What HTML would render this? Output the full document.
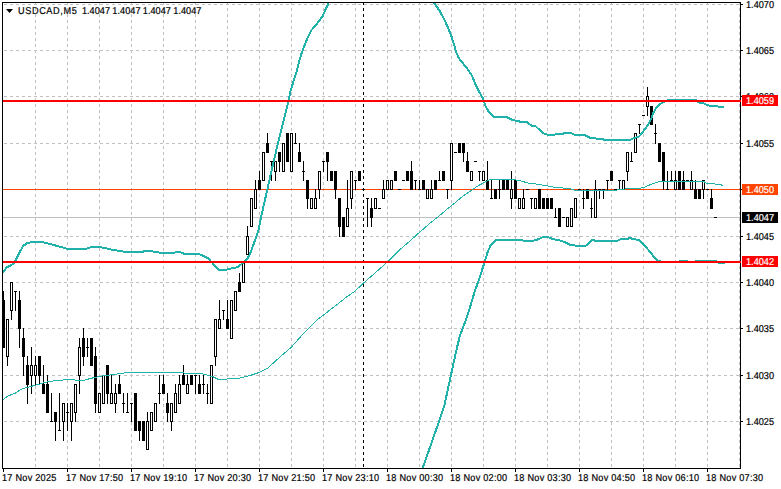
<!DOCTYPE html><html><head><meta charset="utf-8"><title>USDCAD,M5</title><style>
html,body{margin:0;padding:0;background:#fff}
#c{position:relative;width:781px;height:489px;overflow:hidden;background:#fff;font-family:"Liberation Sans",sans-serif;font-size:10px;line-height:11px;text-rendering:geometricPrecision;color:#000;white-space:pre;-webkit-text-stroke:.2px}
#c div{position:absolute;height:11px;}
#c div>span{display:inline-block;transform:scaleX(.915);transform-origin:0 50%}
.p{left:745.8px}
.t{top:472.6px;letter-spacing:.27px;margin-left:-.6px}
#c .b{left:742px;width:32.2px;padding:1px 0 0 3.8px;height:10px;color:#fff;line-height:11px}
</style></head><body><div id="c">
<svg width="781" height="489" viewBox="0 0 781 489" style="position:absolute;left:0;top:0">
<g shape-rendering="crispEdges" fill="none">
<line x1="4" x2="739" y1="4.5" y2="4.5" stroke="#c0c0c0" stroke-dasharray="3 3"/>
<line x1="4" x2="739" y1="50.5" y2="50.5" stroke="#c0c0c0" stroke-dasharray="3 3"/>
<line x1="4" x2="739" y1="96.5" y2="96.5" stroke="#c0c0c0" stroke-dasharray="3 3"/>
<line x1="4" x2="739" y1="143.5" y2="143.5" stroke="#c0c0c0" stroke-dasharray="3 3"/>
<line x1="4" x2="739" y1="189.5" y2="189.5" stroke="#c0c0c0" stroke-dasharray="3 3"/>
<line x1="4" x2="739" y1="236.5" y2="236.5" stroke="#c0c0c0" stroke-dasharray="3 3"/>
<line x1="4" x2="739" y1="282.5" y2="282.5" stroke="#c0c0c0" stroke-dasharray="3 3"/>
<line x1="4" x2="739" y1="328.5" y2="328.5" stroke="#c0c0c0" stroke-dasharray="3 3"/>
<line x1="4" x2="739" y1="375.5" y2="375.5" stroke="#c0c0c0" stroke-dasharray="3 3"/>
<line x1="4" x2="739" y1="421.5" y2="421.5" stroke="#c0c0c0" stroke-dasharray="3 3"/>
<line x1="35.5" x2="35.5" y1="2" y2="468" stroke="#c0c0c0" stroke-dasharray="3 3"/>
<line x1="67.5" x2="67.5" y1="2" y2="468" stroke="#c0c0c0" stroke-dasharray="3 3"/>
<line x1="99.5" x2="99.5" y1="2" y2="468" stroke="#c0c0c0" stroke-dasharray="3 3"/>
<line x1="131.5" x2="131.5" y1="2" y2="468" stroke="#c0c0c0" stroke-dasharray="3 3"/>
<line x1="163.5" x2="163.5" y1="2" y2="468" stroke="#c0c0c0" stroke-dasharray="3 3"/>
<line x1="195.5" x2="195.5" y1="2" y2="468" stroke="#c0c0c0" stroke-dasharray="3 3"/>
<line x1="227.5" x2="227.5" y1="2" y2="468" stroke="#c0c0c0" stroke-dasharray="3 3"/>
<line x1="259.5" x2="259.5" y1="2" y2="468" stroke="#c0c0c0" stroke-dasharray="3 3"/>
<line x1="291.5" x2="291.5" y1="2" y2="468" stroke="#c0c0c0" stroke-dasharray="3 3"/>
<line x1="323.5" x2="323.5" y1="2" y2="468" stroke="#c0c0c0" stroke-dasharray="3 3"/>
<line x1="355.5" x2="355.5" y1="2" y2="468" stroke="#c0c0c0" stroke-dasharray="3 3"/>
<line x1="387.5" x2="387.5" y1="2" y2="468" stroke="#c0c0c0" stroke-dasharray="3 3"/>
<line x1="419.5" x2="419.5" y1="2" y2="468" stroke="#c0c0c0" stroke-dasharray="3 3"/>
<line x1="451.5" x2="451.5" y1="2" y2="468" stroke="#c0c0c0" stroke-dasharray="3 3"/>
<line x1="483.5" x2="483.5" y1="2" y2="468" stroke="#c0c0c0" stroke-dasharray="3 3"/>
<line x1="515.5" x2="515.5" y1="2" y2="468" stroke="#c0c0c0" stroke-dasharray="3 3"/>
<line x1="547.5" x2="547.5" y1="2" y2="468" stroke="#c0c0c0" stroke-dasharray="3 3"/>
<line x1="579.5" x2="579.5" y1="2" y2="468" stroke="#c0c0c0" stroke-dasharray="3 3"/>
<line x1="611.5" x2="611.5" y1="2" y2="468" stroke="#c0c0c0" stroke-dasharray="3 3"/>
<line x1="643.5" x2="643.5" y1="2" y2="468" stroke="#c0c0c0" stroke-dasharray="3 3"/>
<line x1="675.5" x2="675.5" y1="2" y2="468" stroke="#c0c0c0" stroke-dasharray="3 3"/>
<line x1="707.5" x2="707.5" y1="2" y2="468" stroke="#c0c0c0" stroke-dasharray="3 3"/>
<line x1="739.5" x2="739.5" y1="2" y2="468" stroke="#c0c0c0" stroke-dasharray="3 3"/>
</g>
<g shape-rendering="crispEdges">
<line x1="3" x2="740" y1="217.5" y2="217.5" stroke="#c0c0c0"/>
<line x1="3" x2="740" y1="189.5" y2="189.5" stroke="#ff4500"/>
</g>
<g shape-rendering="crispEdges">
<path d="M3.5 291V348M7.5 319V366M11.5 282V320M15.5 291V311M19.5 291V348M23.5 328V376M27.5 356V404M31.5 347V394M35.5 356V385M39.5 356V385M43.5 365V394M47.5 375V413M51.5 393V422M55.5 412V441M59.5 393V431M63.5 403V441M67.5 403V431M71.5 403V441M75.5 384V422M79.5 338V394M83.5 328V366M87.5 338V357M91.5 338V366M95.5 347V413M99.5 393V413M103.5 375V404M107.5 365V404M111.5 375V404M115.5 384V413M119.5 375V394M123.5 393V413M127.5 393V413M131.5 403V422M135.5 393V431M139.5 421V441M143.5 421V441M147.5 412V450M151.5 412V431M155.5 403V422M159.5 375V404M163.5 375V394M167.5 393V422M171.5 403V431M175.5 384V413M179.5 375V404M183.5 365V385M187.5 375V394M191.5 375V385M195.5 375V394M199.5 375V394M203.5 375V394M207.5 384V404M211.5 365V404M215.5 319V366M219.5 300V329M223.5 310V320M227.5 300V329M231.5 300V339M235.5 291V311M239.5 273V292M243.5 263V283M247.5 226V255M251.5 198V227M255.5 180V209M259.5 171V190M263.5 152V181M267.5 133V153M271.5 161V181M275.5 161V181M279.5 152V172M283.5 143V172M287.5 133V162M291.5 133V172M295.5 133V144M299.5 143V162M303.5 161V181M307.5 180V209M311.5 198V209M315.5 189V209M319.5 171V199M323.5 161V172M327.5 152V181M331.5 171V181M335.5 171V199M339.5 198V237M343.5 217V237M347.5 180V227M351.5 171V209M355.5 180V190M359.5 171V181M367.5 198V227M371.5 198V227M375.5 198V209M383.5 180V199M387.5 180V190M391.5 180V190M395.5 171V181M407.5 171V181M411.5 161V190M415.5 180V190M419.5 180V190M423.5 180V190M427.5 189V199M431.5 180V199M435.5 180V190M439.5 171V181M443.5 171V181M447.5 189V199M451.5 143V190M459.5 143V153M463.5 143V162M467.5 152V172M471.5 171V181M479.5 171V181M483.5 171V181M487.5 161V190M491.5 180V199M495.5 189V199M499.5 180V199M503.5 180V190M507.5 180V190M511.5 171V209M515.5 180V199M519.5 198V209M523.5 189V209M531.5 198V209M535.5 198V209M539.5 189V209M543.5 198V209M547.5 198V209M551.5 198V209M555.5 208V218M559.5 208V227M567.5 217V227M571.5 208V227M575.5 198V218M583.5 189V209M587.5 189V199M591.5 198V218M595.5 180V218M599.5 189V199M603.5 189V199M607.5 180V190M611.5 171V181M619.5 180V190M623.5 180V190M627.5 152V181M631.5 152V162M635.5 133V153M639.5 124V134M647.5 87V116M651.5 106V125M655.5 124V144M659.5 143V162M663.5 152V190M667.5 171V190M671.5 171V181M675.5 171V190M679.5 171V190M683.5 171V190M691.5 171V190M695.5 180V199M699.5 189V199M703.5 180V199M711.5 189V209" stroke="#000" fill="none"/>
<path d="M14 291.5h3M50 421.5h3M58 430.5h3M66 412.5h3M86 347.5h3M122 403.5h3M126 412.5h3M130 403.5h3M158 393.5h3M194 375.5h3M202 384.5h3M206 393.5h3M222 310.5h3M270 161.5h3M294 143.5h3M302 171.5h3M322 161.5h3M354 180.5h3M362 189.5h3M366 198.5h3M378 208.5h3M398 189.5h3M402 180.5h3M414 180.5h3M418 189.5h3M438 180.5h3M446 189.5h3M454 152.5h3M474 161.5h3M478 171.5h3M490 198.5h3M498 189.5h3M526 189.5h3M530 198.5h3M554 217.5h3M562 217.5h3M578 189.5h3M582 198.5h3M590 208.5h3M598 189.5h3M602 189.5h3M606 180.5h3M614 189.5h3M618 180.5h3M630 161.5h3M638 124.5h3M642 115.5h3M654 133.5h3M666 189.5h3M670 180.5h3M686 180.5h3M706 189.5h3M714 217.5h3" stroke="#000" fill="none"/>
<path d="M2 300h3V348h-3zM18 300h3V329h-3zM22 338h3V357h-3zM26 365h3V385h-3zM38 356h3V376h-3zM42 384h3V394h-3zM46 384h3V413h-3zM54 412h3V422h-3zM82 338h3V357h-3zM90 338h3V366h-3zM94 356h3V404h-3zM106 365h3V394h-3zM118 384h3V394h-3zM134 393h3V431h-3zM138 421h3V431h-3zM142 421h3V441h-3zM162 384h3V394h-3zM166 403h3V413h-3zM182 375h3V385h-3zM190 375h3V385h-3zM198 384h3V394h-3zM226 319h3V329h-3zM238 282h3V292h-3zM258 180h3V190h-3zM266 143h3V153h-3zM278 152h3V162h-3zM286 133h3V162h-3zM298 152h3V162h-3zM306 180h3V199h-3zM326 152h3V162h-3zM330 171h3V181h-3zM334 171h3V190h-3zM338 198h3V227h-3zM342 217h3V237h-3zM358 171h3V181h-3zM370 208h3V218h-3zM394 171h3V181h-3zM406 171h3V181h-3zM410 171h3V190h-3zM422 180h3V190h-3zM434 180h3V190h-3zM442 171h3V181h-3zM458 143h3V153h-3zM462 143h3V153h-3zM466 161h3V172h-3zM486 180h3V190h-3zM494 189h3V199h-3zM502 180h3V190h-3zM506 180h3V190h-3zM514 180h3V199h-3zM538 189h3V209h-3zM542 198h3V209h-3zM546 198h3V209h-3zM550 198h3V209h-3zM558 208h3V227h-3zM586 189h3V199h-3zM610 171h3V181h-3zM650 106h3V125h-3zM658 143h3V162h-3zM662 152h3V181h-3zM678 171h3V190h-3zM682 180h3V190h-3zM694 189h3V199h-3zM698 189h3V199h-3zM710 198h3V209h-3z" fill="#000"/>
<path d="M6.5 319.5h2V356.5h-2zM10.5 282.5h2V310.5h-2zM30.5 365.5h2V375.5h-2zM34.5 365.5h2V375.5h-2zM62.5 403.5h2V421.5h-2zM70.5 403.5h2V421.5h-2zM74.5 384.5h2V412.5h-2zM78.5 347.5h2V375.5h-2zM98.5 393.5h2V412.5h-2zM102.5 375.5h2V403.5h-2zM110.5 393.5h2V403.5h-2zM114.5 393.5h2V403.5h-2zM146.5 421.5h2V449.5h-2zM150.5 412.5h2V430.5h-2zM154.5 403.5h2V421.5h-2zM170.5 403.5h2V421.5h-2zM174.5 393.5h2V412.5h-2zM178.5 384.5h2V403.5h-2zM186.5 384.5h2V393.5h-2zM210.5 365.5h2V403.5h-2zM214.5 319.5h2V356.5h-2zM218.5 319.5h2V328.5h-2zM230.5 300.5h2V338.5h-2zM234.5 291.5h2V310.5h-2zM242.5 263.5h2V282.5h-2zM246.5 236.5h2V254.5h-2zM250.5 198.5h2V226.5h-2zM254.5 189.5h2V208.5h-2zM262.5 152.5h2V180.5h-2zM274.5 161.5h2V171.5h-2zM282.5 143.5h2V171.5h-2zM290.5 133.5h2V171.5h-2zM310.5 198.5h2V208.5h-2zM314.5 198.5h2V208.5h-2zM318.5 171.5h2V189.5h-2zM346.5 208.5h2V226.5h-2zM350.5 171.5h2V198.5h-2zM374.5 198.5h2V208.5h-2zM382.5 189.5h2V198.5h-2zM386.5 180.5h2V189.5h-2zM390.5 180.5h2V189.5h-2zM426.5 189.5h2V198.5h-2zM430.5 189.5h2V198.5h-2zM450.5 143.5h2V180.5h-2zM470.5 171.5h2V180.5h-2zM482.5 171.5h2V180.5h-2zM510.5 189.5h2V198.5h-2zM518.5 198.5h2V208.5h-2zM522.5 198.5h2V208.5h-2zM534.5 198.5h2V208.5h-2zM566.5 217.5h2V226.5h-2zM570.5 208.5h2V226.5h-2zM574.5 198.5h2V217.5h-2zM594.5 189.5h2V217.5h-2zM622.5 180.5h2V189.5h-2zM626.5 152.5h2V171.5h-2zM634.5 133.5h2V152.5h-2zM646.5 96.5h2V106.5h-2zM674.5 180.5h2V189.5h-2zM690.5 180.5h2V189.5h-2zM702.5 180.5h2V189.5h-2z" fill="#fff" stroke="#000"/>
<polyline points="3,399.6 8.3,395.8 15,393.3 21.6,389.1 27.5,387.4 35,385.3 43.3,383 50,381.3 66.6,379.6 73.2,379.6 76.6,380.5 84.9,380 89.9,378.6 99.9,376.3 109.9,375 119.8,373.6 125,372.9 136.6,372.6 181.6,372.6 186.6,373.6 201.6,373.6 206.5,374.9 213.2,376.9 218.2,379.4 224,379.4 229.9,378.6 239.8,378.1 244.8,376.9 249.8,375.6 259.6,372.3 267.8,368.1 279.3,357.6 290.7,347.8 305.4,331.4 316.9,320 328.4,311.2 338.2,303.6 346.4,297.1 354.5,291.5 364.3,282.4 377.4,270.9 388.2,261.3 399.6,249.8 410,241 420,231.9 430,223.2 438.3,216.6 446.6,209.6 454.9,202.9 463.2,195.8 468.2,192.5 473.2,189.1 478.2,185.8 483.2,183 487.4,180.8 490.7,179.5 513.3,179.5 519.9,180.8 528.3,183 539.9,184.6 553.2,187 563.2,188 569.9,188.8 574,190 616.6,190 621.6,189.3 630,188.6 640,188.3 645,187 651.6,184.1 658.3,182 666.6,181.3 703.2,181.3 707.4,183.6 719.8,184.3 722.8,185.5" fill="none" stroke="#20b2aa" stroke-width="1" stroke-linejoin="round"/>
<polyline points="3,272.4 6.7,267.4 10,265.8 14.1,263.3 16.6,258.3 20,251.6 23.3,245.8 27.5,243 33.3,242 42.4,242 48.3,243.6 56.6,245.8 66.6,248.6 86.5,248.6 91.5,247 99,247 106.5,248.3 113.2,250 124,251.6 143.3,251.6 145.8,250.8 150.8,250.8 153.3,251.6 160,252.6 175,252.6 177.4,251.6 180,252.1 184,253.8 199,254.1 203.2,255.8 208.2,258.3 211.5,262 215.7,266.6 219,270.3 224.9,270.4 228.2,268.8 234.8,268 239,266.3 243.2,262.5 247.3,259 250,254 254,243 258.3,231 262,213 267,191 271,173 275,156 277.5,144.9 280.8,131.6 285,115 288.3,101.6 290.8,90 293.6,81 296.6,71.6 299.1,61.6 301.6,53.3 304.1,46.6 307.4,38.3 311.6,30 316.6,24.1 322.4,16.6 325.7,9.2 328.6,3" fill="none" stroke="#20b2aa" stroke-width="2" stroke-linejoin="round"/>
<polyline points="434,3 439.1,10 444.1,19.1 448.3,28.3 451.6,36.6 454.1,44.9 456.6,53.3 459.1,58.6 464.9,65.7 468.3,70 471.6,75 475,83.3 479.1,91.6 483.3,99.1 485.8,106.6 489.1,112.4 493.3,116.6 506.6,116.9 511.6,119.6 519.9,121.6 526.6,121.9 531.6,125.8 535.7,126.3 543.2,133.2 547.4,134.6 554.9,134.6 557.4,133.6 563.2,133.6 566.5,132.9 570.7,132.9 575,134.9 585,135.2 590,137.9 597,138.6 602.5,138.7 604.5,140 630.5,140 632.5,138.6 635,137.9 639.1,136.6 643.2,131.6 647.4,125.8 650.7,119.9 653.2,113.3 656.5,107.4 659.9,104.1 663.2,102 668.2,100 695.7,100 697.7,102.2 703.8,103.4 706.9,104.9 711.5,106.4 724,106.6" fill="none" stroke="#20b2aa" stroke-width="2" stroke-linejoin="round"/>
<polyline points="422.3,469 430.8,444.9 439.1,421.3 444.1,406.6 447.5,391 451.5,372.6 455.8,352.7 459.8,336.1 464.8,322.9 469.8,307.9 474.7,291.4 480,276.6 484.2,263.3 487.5,252.4 490.8,245 495.8,240 521.6,240 524.1,241 531.6,241 537.4,239.6 543.2,237 547.4,237 553.2,239.1 561.6,240.8 569.9,244.6 576.5,245.8 585.7,245.8 589,243.3 592.3,240 595.7,240.8 617.5,240.8 620.8,239.1 627.5,238.8 630,238 633.3,239.1 639.1,240 643.3,244.1 649.1,250.8 655.8,259.1 659,261 662,262 679,262 680,261 687,261 688,262 695,262 696,261 716,261 717,262 719,263 725,263" fill="none" stroke="#20b2aa" stroke-width="2" stroke-linejoin="round"/>
</g>
<g shape-rendering="crispEdges" fill="none">
<line x1="363.5" x2="363.5" y1="2" y2="468" stroke="#000" stroke-dasharray="3 3"/>
<path d="M2.5 468.5V2.5H740.5V468.5H2" stroke="#000"/>
<rect x="3" y="100" width="738" height="2" fill="#ff0000"/>
<rect x="3" y="261" width="738" height="2" fill="#ff0000"/>
<line x1="741" x2="743" y1="4.5" y2="4.5" stroke="#000"/>
<line x1="741" x2="743" y1="50.5" y2="50.5" stroke="#000"/>
<line x1="741" x2="743" y1="96.5" y2="96.5" stroke="#000"/>
<line x1="741" x2="743" y1="143.5" y2="143.5" stroke="#000"/>
<line x1="741" x2="743" y1="189.5" y2="189.5" stroke="#000"/>
<line x1="741" x2="743" y1="236.5" y2="236.5" stroke="#000"/>
<line x1="741" x2="743" y1="282.5" y2="282.5" stroke="#000"/>
<line x1="741" x2="743" y1="328.5" y2="328.5" stroke="#000"/>
<line x1="741" x2="743" y1="375.5" y2="375.5" stroke="#000"/>
<line x1="741" x2="743" y1="421.5" y2="421.5" stroke="#000"/>
<line x1="3.5" x2="3.5" y1="469" y2="472" stroke="#000"/>
<line x1="67.5" x2="67.5" y1="469" y2="472" stroke="#000"/>
<line x1="131.5" x2="131.5" y1="469" y2="472" stroke="#000"/>
<line x1="195.5" x2="195.5" y1="469" y2="472" stroke="#000"/>
<line x1="259.5" x2="259.5" y1="469" y2="472" stroke="#000"/>
<line x1="323.5" x2="323.5" y1="469" y2="472" stroke="#000"/>
<line x1="387.5" x2="387.5" y1="469" y2="472" stroke="#000"/>
<line x1="451.5" x2="451.5" y1="469" y2="472" stroke="#000"/>
<line x1="515.5" x2="515.5" y1="469" y2="472" stroke="#000"/>
<line x1="579.5" x2="579.5" y1="469" y2="472" stroke="#000"/>
<line x1="643.5" x2="643.5" y1="469" y2="472" stroke="#000"/>
<line x1="707.5" x2="707.5" y1="469" y2="472" stroke="#000"/>
<path d="M6 9h7l-3.5 4z" fill="#000" shape-rendering="auto"/>
</g>
</svg>
<div style="left:18px;top:5.5px;letter-spacing:.03px;word-spacing:-.3px"><span><span style="letter-spacing:.66px">USDCAD,M5</span>  1.4047 1.4047 1.4047 1.4047</span></div>
<div class="p" style="top:0px"><span>1.4070</span></div>
<div class="p" style="top:46px"><span>1.4065</span></div>
<div class="p" style="top:92px"><span>1.4060</span></div>
<div class="p" style="top:139px"><span>1.4055</span></div>
<div class="p" style="top:185px"><span>1.4050</span></div>
<div class="p" style="top:232px"><span>1.4045</span></div>
<div class="p" style="top:278px"><span>1.4040</span></div>
<div class="p" style="top:324px"><span>1.4035</span></div>
<div class="p" style="top:371px"><span>1.4030</span></div>
<div class="p" style="top:417px"><span>1.4025</span></div>
<div class="t" style="left:3px"><span>17 Nov 2025</span></div>
<div class="t" style="left:67px"><span>17 Nov 17:50</span></div>
<div class="t" style="left:131px"><span>17 Nov 19:10</span></div>
<div class="t" style="left:195px"><span>17 Nov 20:30</span></div>
<div class="t" style="left:259px"><span>17 Nov 21:50</span></div>
<div class="t" style="left:323px"><span>17 Nov 23:10</span></div>
<div class="t" style="left:387px"><span>18 Nov 00:30</span></div>
<div class="t" style="left:451px"><span>18 Nov 02:00</span></div>
<div class="t" style="left:515px"><span>18 Nov 03:30</span></div>
<div class="t" style="left:579px"><span>18 Nov 04:50</span></div>
<div class="t" style="left:643px"><span>18 Nov 06:10</span></div>
<div class="t" style="left:707px"><span>18 Nov 07:30</span></div>
<div class="b" style="top:95px;background:#ff0000"><span>1.4059</span></div>
<div class="b" style="top:184px;background:#ff4500"><span>1.4050</span></div>
<div class="b" style="top:212px;background:#000"><span>1.4047</span></div>
<div class="b" style="top:256px;background:#ff0000"><span>1.4042</span></div>
</div></body></html>
